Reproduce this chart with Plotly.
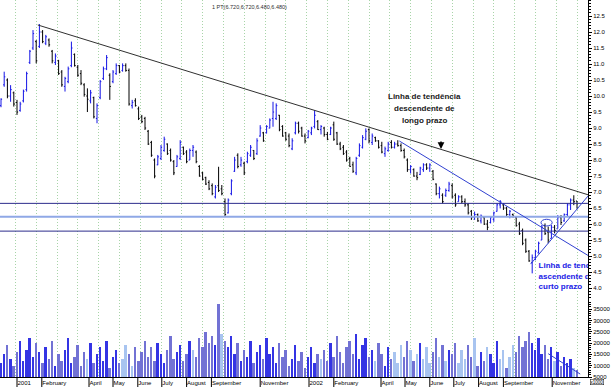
import plotly.graph_objects as go
import pandas as pd

# ---------------- data ----------------
start_date = "2000-12-12"   # first bar, one bar every 4 days
high = [9.93,10.76,10.55,10.34,10.14,9.88,9.82,10.2,10.76,11.44,12.06,11.75,12.25,12.06,11.91,11.8,11.44,11.33,11.13,10.81,
        10.6,10.92,11.7,11.33,10.97,10.81,10.4,10.24,10.19,9.98,9.77,10.5,10.92,11.28,10.71,10.81,11.02,10.97,11.02,11.02,
        10.86,9.88,9.93,9.67,9.41,9.35,8.94,8.6,8.05,8.16,8.47,8.73,8.52,8.36,8.0,8.16,8.62,8.42,8.31,8.36,
        8.47,8.3,7.84,7.63,7.48,7.37,7.27,7.22,7.79,7.22,6.8,6.8,7.4,8.1,8.21,8.1,7.95,8.26,8.47,8.31,
        8.68,9.09,8.88,9.09,9.3,9.82,9.77,9.41,9.09,8.88,8.83,8.68,9.2,9.2,9.04,8.83,8.94,9.04,9.56,9.25,
        9.09,9.04,8.88,9.04,9.2,8.88,8.57,8.47,8.31,8.1,7.95,8.1,8.52,8.78,8.99,8.99,8.83,8.73,8.62,8.57,
        8.42,8.57,8.62,8.57,8.62,8.52,8.36,8.05,7.84,7.74,7.63,7.79,7.9,7.9,7.9,7.69,7.27,7.17,6.96,7.11,
        7.32,7.27,6.96,6.9,6.9,6.8,6.65,6.44,6.39,6.33,6.3,6.23,6.13,6.23,6.39,6.65,6.75,6.65,6.54,6.44,
        6.33,6.23,6.07,5.86,5.55,5.19,5.05,5.19,5.45,5.97,6.02,5.92,5.97,5.97,6.28,6.28,6.33,6.65,6.8,6.9,6.72]
low = [9.65,10.29,9.93,9.82,9.67,9.41,9.51,9.8,10.14,11.0,11.44,11.02,11.5,11.65,11.59,11.54,11.02,10.97,10.66,10.29,
       10.14,10.4,10.9,10.92,10.6,10.34,9.98,9.5,9.77,9.3,9.15,9.9,10.5,10.81,9.88,10.4,10.66,10.71,10.76,10.76,
       9.7,9.61,9.67,9.25,9.15,8.94,8.47,8.1,7.43,7.84,8.0,8.26,8.16,7.95,7.53,7.79,8.0,8.16,7.9,8.0,
       8.1,7.9,7.48,7.37,7.22,7.06,6.9,6.8,7.0,6.9,6.23,6.33,6.9,7.63,7.74,7.79,7.53,7.9,8.1,8.0,
       8.16,8.73,8.57,8.83,8.99,9.04,9.25,8.9,8.73,8.6,8.4,8.31,8.8,8.83,8.73,8.52,8.68,8.78,8.99,8.94,
       8.8,8.73,8.62,8.78,8.6,8.47,8.31,8.16,7.95,7.79,7.6,7.53,8.1,8.36,8.62,8.52,8.47,8.57,8.36,8.21,
       8.1,8.26,8.36,8.36,8.42,8.26,8.05,7.63,7.58,7.48,7.37,7.53,7.63,7.69,7.63,7.37,6.9,6.8,6.65,6.85,
       7.01,6.8,6.54,6.7,6.65,6.54,6.3,6.13,6.13,6.07,6.02,5.97,5.81,6.02,6.07,6.39,6.49,6.44,6.23,6.18,
       6.2,5.92,5.66,5.34,5.1,4.82,4.46,4.87,5.08,5.5,5.66,5.4,5.55,5.71,5.86,5.97,6.07,6.23,6.44,6.59,6.48]
open_ = [9.7,10.35,10.5,10.0,10.1,9.8,9.55,9.85,10.2,11.05,11.5,11.7,11.55,12.0,11.65,11.75,11.4,11.05,11.1,10.75,
         10.3,10.45,10.95,11.3,10.9,10.7,10.35,10.0,9.85,9.95,9.3,9.95,10.55,10.85,10.65,10.45,10.7,10.95,10.8,10.95,
         10.8,9.7,9.85,9.6,9.35,9.3,8.9,8.55,8.0,7.85,8.05,8.3,8.5,8.3,7.95,7.8,8.05,8.4,8.25,8.0,
         8.3,8.25,7.8,7.6,7.45,7.3,7.2,6.85,7.2,7.1,6.7,6.35,6.95,7.65,8.15,7.85,7.9,7.95,8.15,8.3,
         8.2,8.75,8.85,8.85,9.0,9.3,9.3,9.4,9.05,8.85,8.75,8.35,8.85,9.15,9.0,8.75,8.7,8.85,9.05,9.2,
         8.95,9.0,8.8,8.8,9.1,8.85,8.5,8.4,8.25,8.05,7.85,7.6,8.15,8.4,8.65,8.95,8.55,8.7,8.6,8.45,
         8.2,8.3,8.55,8.4,8.5,8.45,8.3,8.0,7.7,7.7,7.5,7.55,7.7,7.85,7.75,7.65,7.25,6.95,6.9,6.9,
         7.05,7.2,6.9,6.7,6.85,6.7,6.6,6.4,6.2,6.3,6.1,6.2,6.0,6.05,6.15,6.4,6.6,6.6,6.5,6.3,
         6.3,6.2,6.0,5.8,5.5,5.15,4.8,4.95,5.1,5.5,5.95,5.75,5.55,5.9,5.85,6.2,6.1,6.3,6.6,6.75,6.72]
close = [9.9,10.6,10.0,10.2,9.75,9.5,9.75,10.15,10.7,11.4,11.95,11.1,12.0,11.7,11.85,11.6,11.1,11.25,10.7,10.35,
         10.55,10.85,11.5,10.95,10.65,10.4,10.05,9.9,10.1,9.35,9.7,10.45,10.85,11.2,10.3,10.75,10.95,10.75,10.95,10.8,
         9.75,9.8,9.7,9.3,9.2,9.0,8.5,8.15,7.5,8.1,8.4,8.65,8.2,8.0,7.6,8.1,8.55,8.2,7.95,8.3,
         8.4,7.95,7.5,7.4,7.25,7.1,6.95,7.15,7.05,6.95,6.3,6.75,7.35,8.0,7.8,8.0,7.6,8.2,8.4,8.05,
         8.6,9.0,8.6,9.05,9.25,9.5,9.7,8.95,8.75,8.65,8.45,8.6,9.15,8.9,8.75,8.6,8.9,9.0,9.4,8.95,
         9.05,8.8,8.65,9.0,8.65,8.5,8.35,8.2,8.0,7.8,7.65,8.05,8.45,8.7,8.9,8.6,8.75,8.6,8.4,8.25,
         8.35,8.5,8.4,8.5,8.45,8.3,8.1,7.7,7.8,7.5,7.45,7.75,7.85,7.75,7.85,7.4,6.95,7.1,6.7,7.05,
         7.25,6.85,6.6,6.85,6.7,6.6,6.35,6.2,6.3,6.1,6.25,6.0,5.9,6.2,6.35,6.6,6.7,6.5,6.3,6.4,
         6.25,5.95,5.7,5.4,5.15,4.85,4.95,5.15,5.4,5.9,5.7,5.5,5.9,5.8,6.2,6.05,6.3,6.6,6.75,6.7,6.48]
volume = [11000,15000,19000,13000,10000,16000,21000,12000,17000,22000,14000,20000,16000,11000,18000,13000,21000,10000,15000,
          12000,17000,22000,11000,14000,19000,10000,16000,13000,20000,11000,15000,18000,12000,21000,9000,14000,17000,11000,13000,
          19000,15000,10000,18000,12000,16000,21000,
          14000,18000,12000,20000,15000,11000,17000,23000,13000,16000,19000,12000,15000,21000,17000,14000,22000,18000,25000,20000,
          23000,19000,37000,24000,21000,
          18000,23000,15000,20000,12000,17000,14000,21000,11000,16000,19000,13000,22000,15000,18000,11000,20000,14000,17000,10000,
          13000,19000,12000,16000,9000,14000,18000,11000,15000,13000,
          17000,12000,20000,14000,23000,16000,11000,18000,21000,15000,24000,13000,19000,22000,14000,17000,12000,20000,15000,10000,
          18000,13000,16000,11000,19000,14000,21000,17000,12000,15000,20000,13000,18000,11000,16000,22000,14000,19000,12000,17000,
          15000,20000,11000,17000,13000,19000,14000,22000,10000,16000,12000,18000,15000,11000,21000,13000,17000,9000,14000,19000,
          16000,23000,18000,21000,25000,20000,17000,22000,15000,19000,13000,18000,12000,16000,10000,14000,11000,13000,9000,8000]

month_ticks = ["2001-01-01", "2001-02-01", "2001-04-01", "2001-05-01", "2001-06-01", "2001-07-01", "2001-08-01",
               "2001-09-01", "2001-11-01", "2002-01-01", "2002-02-01", "2002-04-01", "2002-05-01", "2002-06-01",
               "2002-07-01", "2002-08-01", "2002-09-01", "2002-11-01"]
month_labels = ["2001", "February", "April", "May", "June", "July", "August", "September", "November",
                "2002", "February", "April", "May", "June", "July", "August", "September", "November"]
price_ticks = [4.0, 4.5, 5.0, 5.5, 6.0, 6.5, 7.0, 7.5, 8.0, 8.5, 9.0, 9.5, 10.0, 10.5, 11.0, 11.5, 12.0, 12.5]
volume_ticks = [5000, 10000, 15000, 20000, 25000, 30000, 35000]

# support / resistance levels and trend lines (price units)
levels_dark = [6.647, 5.78]
level_light = 6.227
long_trend = (("2001-01-27", 12.22), ("2002-12-15 18:00", 6.916))
short_down = (("2002-04-24", 8.594), ("2002-12-15 18:00", 5.02))
short_up = (("2002-10-05", 4.75), ("2002-12-15 18:00", 6.875))
vol_trend = (("2002-10-27", 15300), ("2002-12-06", 6300))

dates = pd.date_range(start_date, periods=len(high), freq="4D")

FONT = "Liberation Sans, Arial, sans-serif"

vol_colors = []
for o, c in zip(open_, close):
    if abs(c - o) < 0.15:
        vol_colors.append("#a8c4f0")
    elif c > o:
        vol_colors.append("#3434e4")
    else:
        vol_colors.append("#7272d4")

fig = go.Figure()
fig.add_trace(go.Ohlc(
    x=dates, open=open_, high=high, low=low, close=close,
    increasing=dict(line=dict(color="#1414e6", width=1)),
    decreasing=dict(line=dict(color="#000000", width=1)),
    tickwidth=0.35, xaxis="x", yaxis="y", hoverinfo="skip", showlegend=False))

fig.add_trace(go.Bar(
    x=dates, y=volume, marker=dict(color=vol_colors, line=dict(width=0)),
    width=2.4 * 86400000, xaxis="x", yaxis="y2", hoverinfo="skip", showlegend=False))

# clipped blue text (as in the original, it runs into the axis)
fig.add_trace(go.Scatter(
    x=["2002-10-15", "2002-10-15", "2002-10-15"], y=[4.69, 4.36, 4.03],
    text=["Linha de tendência", "ascendente de", "curto prazo"],
    mode="text", textposition="middle right", cliponaxis=True,
    textfont=dict(family=FONT, size=8, color="#1a1ae6", weight="bold"),
    xaxis="x", yaxis="y", hoverinfo="skip", showlegend=False))

shapes = []
for lv in levels_dark:
    shapes.append(dict(type="line", xref="paper", x0=0, x1=1, yref="y", y0=lv, y1=lv,
                       line=dict(color="#2c2c8c", width=1), layer="above"))
shapes.append(dict(type="line", xref="paper", x0=0, x1=1, yref="y", y0=level_light, y1=level_light,
                   line=dict(color="#8fa8e6", width=2), layer="above"))
for (p0, p1), col in [(long_trend, "#303030"), (short_down, "#3040d0"), (short_up, "#3040d0")]:
    shapes.append(dict(type="line", xref="x", yref="y", x0=p0[0], y0=p0[1], x1=p1[0], y1=p1[1],
                       line=dict(color=col, width=1), layer="above"))
shapes.append(dict(type="circle", xref="x", yref="y", x0="2002-10-18", x1="2002-11-01", y0=5.94, y1=6.15,
                   line=dict(color="#3040d0", width=1), layer="above"))
shapes.append(dict(type="line", xref="x", yref="y2", x0=vol_trend[0][0], y0=vol_trend[0][1],
                   x1=vol_trend[1][0], y1=vol_trend[1][1], line=dict(color="#3040d0", width=1), layer="above"))
# long month tick marks below the time axis
for t in month_ticks:
    shapes.append(dict(type="line", xref="x", yref="paper", x0=t, x1=t, y0=0, y1=-10 / 377,
                       line=dict(color="#000000", width=1), layer="above"))

black_lines = ["Linha de tendência", "descendente de", "longo prazo"]
black_y = [9.97, 9.61, 9.25]
annotations = [
    dict(text="1 PT(6.720,6.720,6.480,6.480)", xref="paper", yref="paper", x=250 / 588, y=1, yanchor="top",
         yshift=-2, showarrow=False, font=dict(family=FONT, size=5.5, color="#303030")),
    dict(text="", xref="x", yref="y", x="2002-06-15", y=8.344, ax=0, ay=-9, showarrow=True,
         arrowhead=2, arrowsize=0.9, arrowwidth=1.5, arrowcolor="#000000"),
    dict(text="x1000", xref="paper", yref="paper", x=1, xshift=2, xanchor="left", y=0, yanchor="top", yshift=-2,
         showarrow=False, bordercolor="#000000", borderwidth=0.5, borderpad=0,
         font=dict(family=FONT, size=4.5, color="#000000")),
]
for t, yv in zip(black_lines, black_y):
    annotations.append(dict(text="<b>" + t + "</b>", xref="x", yref="y", x="2002-05-25", y=yv,
                            showarrow=False, font=dict(family=FONT, size=8, color="#202020")))

fig.update_layout(
    template="none",
    width=614, height=387, margin=dict(l=0, r=26, t=0, b=10, autoexpand=False),
    paper_bgcolor="white", plot_bgcolor="white",
    shapes=shapes, annotations=annotations, bargap=0,
    xaxis=dict(type="date", range=["2000-12-10 18:00", "2002-12-15 18:00"], anchor="y2", automargin=False,
               rangeslider=dict(visible=False), showgrid=False, zeroline=False,
               showline=True, linecolor="#000000", linewidth=1,
               tickmode="array", tickvals=month_ticks, ticktext=month_labels, tickangle=0,
               ticks="", ticklen=0, ticklabelposition="outside right",
               tickfont=dict(family=FONT, size=6, color="#000000"),
               minor=dict(tick0="2000-12-30", dtick=26 * 86400000, showgrid=True, griddash="1px,2px",
                          gridcolor="#a8d4a8", gridwidth=1, ticks="")),
    yaxis=dict(domain=[0.204, 1], range=[3.625, 13.0], side="right", anchor="x", automargin=False,
               showgrid=False, zeroline=False, showline=True, linecolor="#000000", linewidth=1,
               tickmode="array", tickvals=price_ticks, tickformat=".1f",
               ticks="outside", ticklen=3, tickcolor="#000000",
               tickfont=dict(family=FONT, size=6, color="#000000"),
               minor=dict(tickmode="linear", tick0=0, dtick=0.1, ticks="outside", ticklen=2,
                          tickcolor="#000000", showgrid=False)),
    yaxis2=dict(domain=[0, 0.204], range=[5000, 38970], side="right", anchor="x", automargin=False,
                showgrid=False, zeroline=False, showline=True, linecolor="#000000", linewidth=1,
                tickmode="array", tickvals=volume_ticks, tickformat="d",
                ticks="outside", ticklen=3, tickcolor="#000000",
                tickfont=dict(family=FONT, size=6, color="#000000"),
                minor=dict(tickmode="linear", tick0=0, dtick=1000, ticks="outside", ticklen=2,
                           tickcolor="#000000", showgrid=False)),
)

fig.write_html("out.html", config={"displayModeBar": False},
               post_script="document.body.style.margin='0';document.body.style.padding='0';")
